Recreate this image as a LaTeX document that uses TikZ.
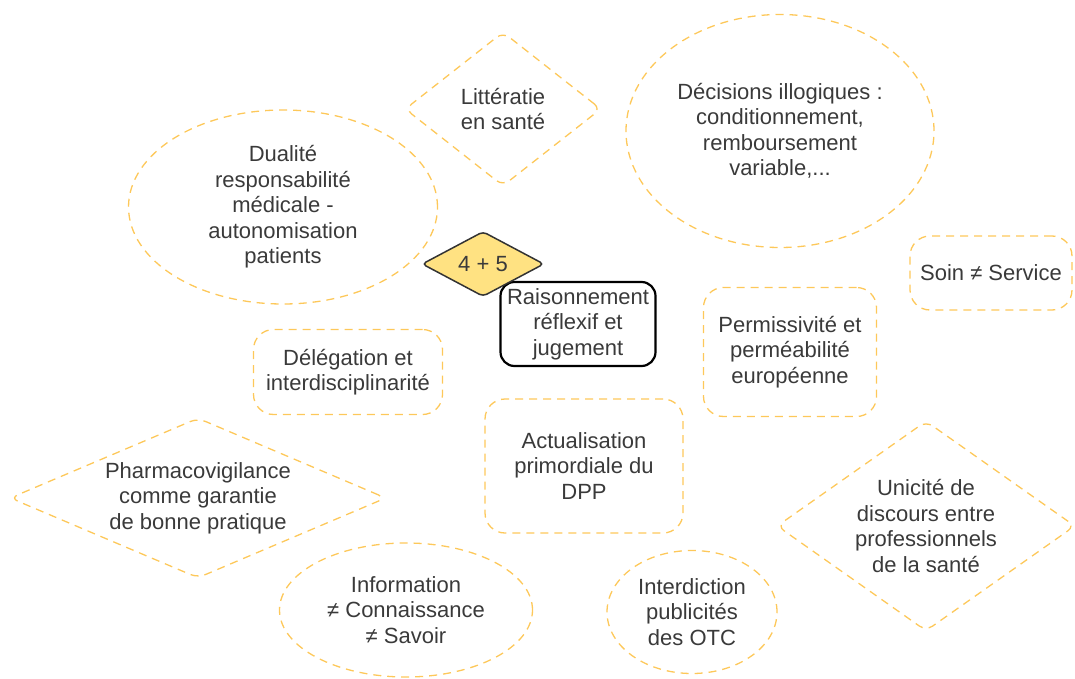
\documentclass[tikz,border=0pt]{standalone}
\usepackage{fontspec}
\setmainfont{Liberation Sans}
\usetikzlibrary{shapes.geometric}
\definecolor{IdeaLine}{RGB}{253,200,90}
\definecolor{IdeaFill}{RGB}{255,226,130}
\definecolor{textgrey}{RGB}{58,58,58}

\begin{document}
\begin{tikzpicture}[
  x=1pt, y=-1pt,
  font=\fontsize{22}{25.5}\selectfont,
  every node/.style={text=textgrey, align=center, inner sep=0pt},
  idea/.style={draw=IdeaLine, line width=1.3pt, dash pattern=on 8pt off 6pt},
  ideabox/.style={idea, rectangle, rounded corners=20pt},
  ideaoval/.style={idea, ellipse},
  ideadiamond/.style={idea, diamond, rounded corners=8pt},
  corebox/.style={draw=black, line width=2.2pt, rectangle, rounded corners=14pt},
]
\useasboundingbox (0,0) rectangle (1075,679);

% Top row
\node[ideadiamond, aspect=1.26, minimum width=196pt, minimum height=154pt] (litteratie) at (503,109) {Littératie\\en santé};
\node[ideaoval, minimum width=309pt, minimum height=194pt] (dualite) at (283,207) {Dualité\\responsabilité\\médicale -\\autonomisation\\patients};
\node[ideaoval, minimum width=308pt, minimum height=233pt] (decisions) at (780,131) {Décisions illogiques :\\conditionnement,\\remboursement\\variable,...};
\node[ideabox, minimum width=162pt, minimum height=74pt] (soin) at (991,273) {Soin ≠ Service};

% Centre
\node[corebox, minimum width=155pt, minimum height=84pt] (raisonnement) at (578,324) {Raisonnement\\réflexif et\\jugement};
\node[diamond, aspect=1.88, fill=IdeaFill, draw=black!80, line width=1.5pt, rounded corners=4pt, minimum width=122pt, minimum height=65pt] (quatrecinq) at (483,264) {4 + 5};

% Middle row
\node[ideabox, minimum width=189pt, minimum height=85pt] (delegation) at (348,372) {Délégation et\\interdisciplinarité};
\node[ideabox, minimum width=173pt, minimum height=129pt] (permissivite) at (790,352) {Permissivité et\\perméabilité\\européenne};
\node[ideabox, minimum width=198pt, minimum height=134pt] (actualisation) at (584,466) {Actualisation\\primordiale du\\DPP};

% Bottom row
\node[ideadiamond, aspect=2.36, minimum width=376pt, minimum height=160pt] (pharmaco) at (198,498) {Pharmacovigilance\\comme garantie\\de bonne pratique};
\node[ideadiamond, aspect=1.42, minimum width=298pt, minimum height=210pt] (unicite) at (926,526) {Unicité de\\discours entre\\professionnels\\de la santé};
\node[ideaoval, minimum width=253pt, minimum height=134pt] (information) at (406,610) {Information\\≠ Connaissance\\≠ Savoir};
\node[ideaoval, minimum width=170pt, minimum height=123pt] (interdiction) at (692,612) {Interdiction\\publicités\\des OTC};

\end{tikzpicture}
\end{document}
